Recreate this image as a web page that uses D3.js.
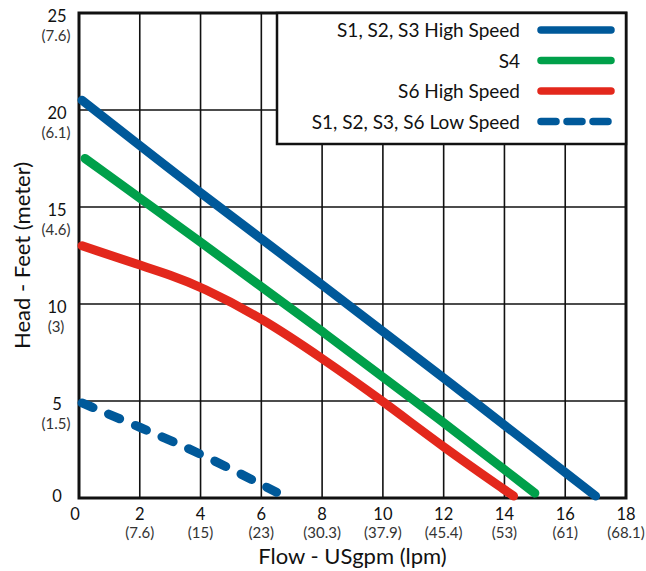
<!DOCTYPE html>
<html>
<head>
<meta charset="utf-8">
<script src="https://cdn.jsdelivr.net/npm/d3@7"></script>
<style>
  body { margin: 0; background: #fff; }
  svg { display: block; font-family: Lato, "Open Sans", sans-serif; }
</style>
</head>
<body>
<div id="chart"></div>
<script>
// tick labels
let xTicks = [0, 2, 4, 6, 8, 10, 12, 14, 16, 18];
let xSub = ['', '(7.6)', '(15)', '(23)', '(30.3)', '(37.9)', '(45.4)', '(53)', '(61)', '(68.1)'];
let yTicks = [0, 5, 10, 15, 20, 25];
let ySub = ['', '(1.5)', '(3)', '(4.6)', '(6.1)', '(7.6)'];

// series, [flow gpm, head ft]
let highSpeed = [[0.1, 20.5], [4, 15.7], [8, 11.0], [12, 6.2], [17, 0.1]];
let s4 = [[0.2, 17.5], [4, 13.2], [8, 8.6], [12, 3.9], [15, 0.25]];
let s6High = [[0.1, 13.0], [2, 12.0], [3, 11.5], [4, 10.9], [6, 9.3], [8, 7.2], [10, 5.0], [12, 2.6], [14.3, 0.1]];
let lowSpeed = [[0.1, 4.9], [2, 3.65], [4, 2.3], [6.5, 0.3]];

let seriesNames = ['S1, S2, S3 High Speed', 'S4', 'S6 High Speed', 'S1, S2, S3, S6 Low Speed'];
let seriesColors = ['#00599a', '#00a04a', '#e3281c', '#00599a'];

function chart() {
    let width = 646, height = 571;
    let left = 79, right = 626, top = 13, bottom = 498;

    let x = d3.scaleLinear().domain([0, 18]).range([left, right]);
    let y = d3.scaleLinear().domain([0, 25]).range([bottom, top]);

    let svg = d3.select('#chart').append('svg')
        .attr('width', width).attr('height', height);

    // grid
    svg.append('g').selectAll('line.v').data(xTicks).enter().append('line')
        .attr('x1', d => x(d)).attr('x2', d => x(d))
        .attr('y1', top).attr('y2', bottom)
        .attr('stroke', '#111').attr('stroke-width', 1.6);
    svg.append('g').selectAll('line.h').data(yTicks).enter().append('line')
        .attr('x1', left).attr('x2', right)
        .attr('y1', d => y(d)).attr('y2', d => y(d))
        .attr('stroke', '#111').attr('stroke-width', 1.6);

    svg.append('rect')
        .attr('x', left).attr('y', top)
        .attr('width', right - left).attr('height', bottom - top)
        .attr('fill', 'none').attr('stroke', '#111').attr('stroke-width', 3);

    // tick labels
    let xl = svg.append('g').attr('text-anchor', 'middle');
    xTicks.forEach((t, i) => {
        xl.append('text').attr('x', x(t) - (t === 0 ? 4 : 0)).attr('y', 520)
            .attr('font-size', 16.5).attr('fill', '#111').text(t);
        xl.append('text').attr('x', x(t)).attr('y', 538)
            .attr('font-size', 15).attr('fill', '#333').text(xSub[i]);
    });
    let yl = svg.append('g').attr('text-anchor', 'middle');
    yTicks.forEach((t, i) => {
        yl.append('text').attr('x', 57).attr('y', y(t) + (t === 0 ? 4 : 9))
            .attr('font-size', 16.5).attr('fill', '#111').text(t);
        yl.append('text').attr('x', 56).attr('y', y(t) + 27.5)
            .attr('font-size', 15).attr('fill', '#333').text(ySub[i]);
    });

    // axis titles
    svg.append('text').attr('x', (left + right) / 2).attr('y', 564)
        .attr('text-anchor', 'middle').attr('font-size', 22).attr('fill', '#111')
        .text('Flow - USgpm (lpm)');
    svg.append('text')
        .attr('transform', `translate(30,${(top + bottom) / 2}) rotate(-90)`)
        .attr('text-anchor', 'middle').attr('font-size', 22).attr('fill', '#111')
        .text('Head - Feet (meter)');

    // curves
    let line = d3.line()
        .curve(d3.curveBasis)
        .x(d => x(d[0]))
        .y(d => y(d[1]));

    [highSpeed, s4, s6High, lowSpeed].forEach((data, i) => {
        svg.append('path').datum(data)
            .attr('fill', 'none')
            .attr('stroke', seriesColors[i])
            .attr('stroke-width', 9)
            .attr('stroke-linecap', 'round')
            .attr('stroke-dasharray', i === 3 ? '12,17' : null)
            .attr('d', line);
    });

    // legend
    let lg = svg.append('g');
    lg.append('rect')
        .attr('x', 277).attr('y', top)
        .attr('width', right - 277).attr('height', 131)
        .attr('fill', '#fff').attr('stroke', '#111').attr('stroke-width', 2.5);
    seriesNames.forEach((name, i) => {
        let cy = 30 + i * 30.5;
        lg.append('text').attr('x', 520).attr('y', cy + 7)
            .attr('text-anchor', 'end').attr('font-size', 19).attr('fill', '#111')
            .text(name);
        lg.append('line')
            .attr('x1', 541).attr('x2', 611)
            .attr('y1', cy).attr('y2', cy)
            .attr('stroke', seriesColors[i]).attr('stroke-width', 7.5)
            .attr('stroke-linecap', 'round')
            .attr('stroke-dasharray', i === 3 ? '15,11' : null);
    });
}

chart();
</script>
</body>
</html>
